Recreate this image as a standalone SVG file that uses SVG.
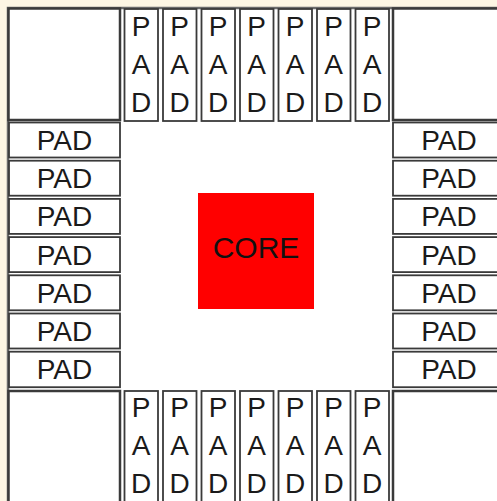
<svg xmlns="http://www.w3.org/2000/svg" width="497" height="501" viewBox="0 0 497 501">
<style>
.bg{fill:#fdf6e4}
.field{fill:#ffffff}
.frame{fill:none;stroke:#6b6b6b;stroke-width:2.5}
.corner{fill:#ffffff;stroke:#3a3a3a;stroke-width:2.5}
.pad{fill:#ffffff;stroke:#3a3a3a;stroke-width:1.8}
.t{font-family:"Liberation Sans",Arial,sans-serif;font-size:28px;fill:#1a1a1a;text-anchor:middle}
.core{fill:#ff0000}
.ct{font-family:"Liberation Sans",Arial,sans-serif;font-size:30px;fill:#111;text-anchor:middle}
</style>
<rect class="bg" x="0" y="0" width="497" height="501"/>
<rect class="field" x="8" y="8" width="500" height="500"/>
<path class="frame" d="M8,510 V8 H500"/>

<g id="corner-tl"><rect class="corner" x="8.5" y="8.5" width="111.5" height="111.5"/></g>
<g id="corner-tr"><rect class="corner" x="393" y="8.5" width="112" height="111.5"/></g>
<g id="corner-bl"><rect class="corner" x="8.5" y="391" width="111.5" height="114"/></g>
<g id="corner-br"><rect class="corner" x="393" y="391" width="112" height="114"/></g>

<g id="pad-top-1"><rect class="pad" x="124.5" y="9" width="33.5" height="112"/><text class="t" x="141.2" y="36">P</text><text class="t" x="141.2" y="74">A</text><text class="t" x="141.2" y="112">D</text></g>
<g id="pad-top-2"><rect class="pad" x="163" y="9" width="33.5" height="112"/><text class="t" x="179.7" y="36">P</text><text class="t" x="179.7" y="74">A</text><text class="t" x="179.7" y="112">D</text></g>
<g id="pad-top-3"><rect class="pad" x="201.5" y="9" width="33.5" height="112"/><text class="t" x="218.2" y="36">P</text><text class="t" x="218.2" y="74">A</text><text class="t" x="218.2" y="112">D</text></g>
<g id="pad-top-4"><rect class="pad" x="240" y="9" width="33.5" height="112"/><text class="t" x="256.7" y="36">P</text><text class="t" x="256.7" y="74">A</text><text class="t" x="256.7" y="112">D</text></g>
<g id="pad-top-5"><rect class="pad" x="278.5" y="9" width="33.5" height="112"/><text class="t" x="295.2" y="36">P</text><text class="t" x="295.2" y="74">A</text><text class="t" x="295.2" y="112">D</text></g>
<g id="pad-top-6"><rect class="pad" x="317" y="9" width="33.5" height="112"/><text class="t" x="333.7" y="36">P</text><text class="t" x="333.7" y="74">A</text><text class="t" x="333.7" y="112">D</text></g>
<g id="pad-top-7"><rect class="pad" x="355.5" y="9" width="33.5" height="112"/><text class="t" x="372.2" y="36">P</text><text class="t" x="372.2" y="74">A</text><text class="t" x="372.2" y="112">D</text></g>

<g id="pad-bottom-1"><rect class="pad" x="124.5" y="391" width="33.5" height="114"/><text class="t" x="141.2" y="417">P</text><text class="t" x="141.2" y="455">A</text><text class="t" x="141.2" y="493">D</text></g>
<g id="pad-bottom-2"><rect class="pad" x="163" y="391" width="33.5" height="114"/><text class="t" x="179.7" y="417">P</text><text class="t" x="179.7" y="455">A</text><text class="t" x="179.7" y="493">D</text></g>
<g id="pad-bottom-3"><rect class="pad" x="201.5" y="391" width="33.5" height="114"/><text class="t" x="218.2" y="417">P</text><text class="t" x="218.2" y="455">A</text><text class="t" x="218.2" y="493">D</text></g>
<g id="pad-bottom-4"><rect class="pad" x="240" y="391" width="33.5" height="114"/><text class="t" x="256.7" y="417">P</text><text class="t" x="256.7" y="455">A</text><text class="t" x="256.7" y="493">D</text></g>
<g id="pad-bottom-5"><rect class="pad" x="278.5" y="391" width="33.5" height="114"/><text class="t" x="295.2" y="417">P</text><text class="t" x="295.2" y="455">A</text><text class="t" x="295.2" y="493">D</text></g>
<g id="pad-bottom-6"><rect class="pad" x="317" y="391" width="33.5" height="114"/><text class="t" x="333.7" y="417">P</text><text class="t" x="333.7" y="455">A</text><text class="t" x="333.7" y="493">D</text></g>
<g id="pad-bottom-7"><rect class="pad" x="355.5" y="391" width="33.5" height="114"/><text class="t" x="372.2" y="417">P</text><text class="t" x="372.2" y="455">A</text><text class="t" x="372.2" y="493">D</text></g>

<g id="pad-left-1"><rect class="pad" x="9" y="122.5" width="111" height="35"/><text class="t" x="64.5" y="150">PAD</text></g>
<g id="pad-left-2"><rect class="pad" x="9" y="160.7" width="111" height="35"/><text class="t" x="64.5" y="188.2">PAD</text></g>
<g id="pad-left-3"><rect class="pad" x="9" y="198.9" width="111" height="35"/><text class="t" x="64.5" y="226.4">PAD</text></g>
<g id="pad-left-4"><rect class="pad" x="9" y="237.1" width="111" height="35"/><text class="t" x="64.5" y="264.6">PAD</text></g>
<g id="pad-left-5"><rect class="pad" x="9" y="275.3" width="111" height="35"/><text class="t" x="64.5" y="302.8">PAD</text></g>
<g id="pad-left-6"><rect class="pad" x="9" y="313.5" width="111" height="35"/><text class="t" x="64.5" y="341">PAD</text></g>
<g id="pad-left-7"><rect class="pad" x="9" y="351.7" width="111" height="35.5"/><text class="t" x="64.5" y="379.2">PAD</text></g>

<g id="pad-right-1"><rect class="pad" x="393" y="122.5" width="112" height="35"/><text class="t" x="449" y="150">PAD</text></g>
<g id="pad-right-2"><rect class="pad" x="393" y="160.7" width="112" height="35"/><text class="t" x="449" y="188.2">PAD</text></g>
<g id="pad-right-3"><rect class="pad" x="393" y="198.9" width="112" height="35"/><text class="t" x="449" y="226.4">PAD</text></g>
<g id="pad-right-4"><rect class="pad" x="393" y="237.1" width="112" height="35"/><text class="t" x="449" y="264.6">PAD</text></g>
<g id="pad-right-5"><rect class="pad" x="393" y="275.3" width="112" height="35"/><text class="t" x="449" y="302.8">PAD</text></g>
<g id="pad-right-6"><rect class="pad" x="393" y="313.5" width="112" height="35"/><text class="t" x="449" y="341">PAD</text></g>
<g id="pad-right-7"><rect class="pad" x="393" y="351.7" width="112" height="35.5"/><text class="t" x="449" y="379.2">PAD</text></g>

<g id="core"><rect class="core" x="198" y="193" width="116" height="116"/><text class="ct" x="256" y="258">CORE</text></g>
</svg>
